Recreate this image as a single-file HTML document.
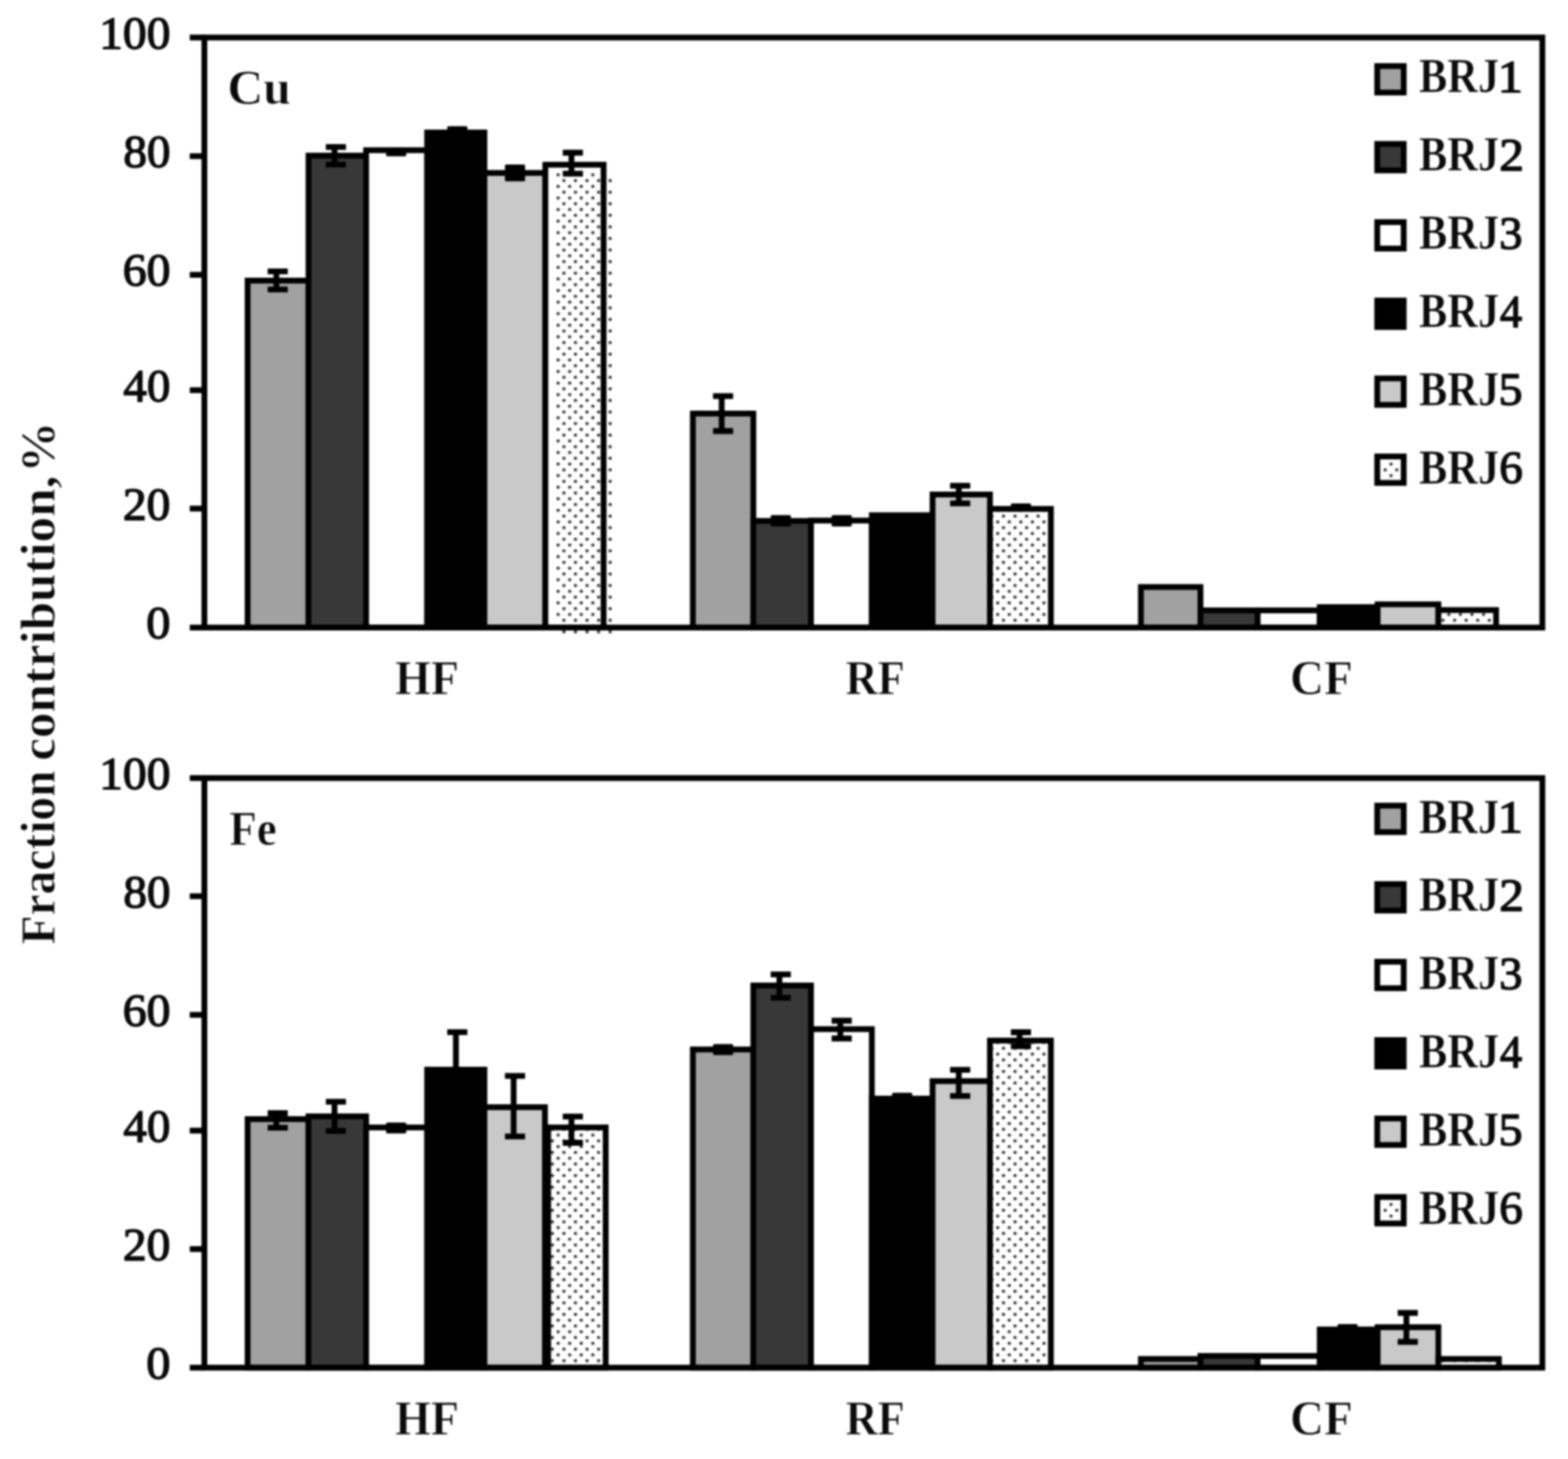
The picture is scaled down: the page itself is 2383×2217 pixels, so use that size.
<!DOCTYPE html>
<html lang="en"><head><meta charset="utf-8"><title>Fraction contribution of Cu and Fe</title>
<style>
html,body{margin:0;padding:0;background:#fff;}
body{width:2383px;height:2217px;overflow:hidden;}
svg{display:block;filter:blur(1.80px);}
text{font-family:"Liberation Serif","DejaVu Serif",serif;font-weight:bold;font-size:74px;fill:#0a0a0a;stroke:#fff;stroke-width:1.0px;stroke-linejoin:round;}
.s{stroke:#000;stroke-width:8.80;stroke-linejoin:miter;}
.l{stroke:#000;stroke-width:8.80;fill:none;stroke-linecap:butt;}
.b{fill:#000;}
.k{stroke-width:0.7px;}
.d{font-weight:normal;stroke:#0a0a0a;stroke-width:2.0px;stroke-linejoin:round;}
</style></head><body>
<svg width="2383" height="2217" viewBox="0 0 2383 2217">
<defs>
<pattern id="dots" patternUnits="userSpaceOnUse" x="2.12" y="-0.25" width="17.58" height="17.58">
<rect width="17.58" height="17.58" fill="#fff"/>
<rect x="0" y="0" width="4.5" height="4.5" rx="1.3" fill="#2e2e2e"/>
<rect x="8.79" y="8.79" width="4.5" height="4.5" rx="1.3" fill="#2e2e2e"/>
</pattern>
</defs>
<rect width="2383" height="2217" fill="#fff"/>
<g transform="translate(83.2 0) rotate(-90)">
<text><tspan x="-1435.3" y="0.0" style="font-size:74.8px" textLength="264.4" lengthAdjust="spacingAndGlyphs">Fraction</tspan> <tspan x="-1156.0" y="0.0" style="font-size:74.8px" textLength="433.2" lengthAdjust="spacingAndGlyphs">contribution,</tspan> <tspan x="-718.3" y="0.0" style="font-size:74.8px" textLength="77.6" lengthAdjust="spacingAndGlyphs">%</tspan></text>
</g>
<g>
<rect class="s" x="376.3" y="426.4" width="92.6" height="527.2" fill="#a1a1a1"/>
<rect class="s" x="468.9" y="236.5" width="87.5" height="717.1" fill="#383838"/>
<rect class="s" x="556.4" y="228.2" width="92.8" height="725.4" fill="#ffffff"/>
<rect class="s" x="649.2" y="201.3" width="87.0" height="752.3" fill="#000000"/>
<rect class="s" x="736.2" y="262.8" width="92.6" height="690.8" fill="#c9c9c9"/>
<rect x="828.8" y="250.3" width="88.5" height="703.3" fill="#fff"/>
<rect x="843.5" y="261.1" width="88.5" height="703.4" fill="url(#dots)"/>
<rect class="s" x="828.8" y="250.3" width="88.5" height="703.3" fill="none"/>
<rect class="s" x="1053.0" y="628.4" width="91.9" height="325.2" fill="#a1a1a1"/>
<rect class="s" x="1144.9" y="791.6" width="87.6" height="162.0" fill="#383838"/>
<rect class="s" x="1232.5" y="791.0" width="92.5" height="162.6" fill="#ffffff"/>
<rect class="s" x="1325.0" y="782.9" width="92.3" height="170.7" fill="#000000"/>
<rect class="s" x="1417.3" y="751.4" width="87.2" height="202.2" fill="#c9c9c9"/>
<rect class="s" x="1504.5" y="773.3" width="92.6" height="180.3" fill="url(#dots)"/>
<rect class="s" x="1733.9" y="892.0" width="90.5" height="61.6" fill="#a1a1a1"/>
<rect class="s" x="1824.4" y="927.5" width="86.9" height="26.1" fill="#383838"/>
<rect class="s" x="1911.3" y="927.5" width="94.4" height="26.1" fill="#ffffff"/>
<rect class="s" x="2005.7" y="922.5" width="88.0" height="31.1" fill="#000000"/>
<rect class="s" x="2093.7" y="918.3" width="92.3" height="35.3" fill="#c9c9c9"/>
<rect class="s" x="2186.0" y="927.0" width="87.7" height="26.6" fill="url(#dots)"/>
<path class="l" d="M420.0 412.4V439.8M406.8 412.4H437.4M406.8 439.8H437.4"/>
<path class="l" d="M508.4 223.3V250.2M495.2 223.3H525.8M495.2 250.2H525.8"/>
<rect class="b" x="586.8" y="228.0" width="30.6" height="9.4" rx="2"/>
<rect class="b" x="679.7" y="191.7" width="30.6" height="8.3" rx="2"/>
<rect class="b" x="767.4" y="249.9" width="30.6" height="25.7" rx="2"/>
<path class="l" d="M868.5 232.0V263.8M855.3 232.0H885.9M855.3 263.8H885.9"/>
<path class="l" d="M1096.8 601.9V655.0M1083.6 601.9H1114.2M1083.6 655.0H1114.2"/>
<rect class="b" x="1171.3" y="782.8" width="30.6" height="17.1" rx="2"/>
<rect class="b" x="1263.9" y="782.8" width="30.6" height="17.1" rx="2"/>
<path class="l" d="M1457.1 738.2V764.9M1443.9 738.2H1474.5M1443.9 764.9H1474.5"/>
<rect class="b" x="1536.3" y="765.1" width="30.6" height="9.0" rx="2"/>
<rect class="l" x="310.6" y="57.0" width="2033.4" height="896.6"/>
<path class="l" d="M288.4 57.0H310.6"/>
<path class="l" d="M288.4 237.3H310.6"/>
<path class="l" d="M288.4 417.6H310.6"/>
<path class="l" d="M288.4 592.9H310.6"/>
<path class="l" d="M288.4 772.8H310.6"/>
<path class="l" d="M288.4 953.6H310.6"/>
<text class="d" x="150.8" y="73.7" style="font-size:69.5px" textLength="108.2" lengthAdjust="spacingAndGlyphs">100</text>
<text class="d" x="187.4" y="254.0" style="font-size:69.5px" textLength="71.6" lengthAdjust="spacingAndGlyphs">80</text>
<text class="d" x="186.4" y="434.3" style="font-size:69.5px" textLength="72.6" lengthAdjust="spacingAndGlyphs">60</text>
<text class="d" x="187.6" y="609.6" style="font-size:69.5px" textLength="71.3" lengthAdjust="spacingAndGlyphs">40</text>
<text class="d" x="186.7" y="789.5" style="font-size:69.5px" textLength="72.3" lengthAdjust="spacingAndGlyphs">20</text>
<text class="d" x="222.2" y="970.3" style="font-size:69.5px" textLength="36.8" lengthAdjust="spacingAndGlyphs">0</text>
<text x="345.5" y="157.8" style="font-size:74.8px" textLength="96.7" lengthAdjust="spacingAndGlyphs">Cu</text>
<text x="600.3" y="1055.3" style="font-size:74.8px" textLength="97.2" lengthAdjust="spacingAndGlyphs">HF</text>
<text x="1284.9" y="1055.3" style="font-size:74.8px" textLength="90.2" lengthAdjust="spacingAndGlyphs">RF</text>
<text x="1960.6" y="1055.3" style="font-size:74.8px" textLength="95.3" lengthAdjust="spacingAndGlyphs">CF</text>
<rect class="s" x="2093.1" y="100.4" width="40.2" height="40.2" fill="#a1a1a1"/>
<text><tspan x="2156.6" y="140.3" style="font-size:73.8px" textLength="121.8" lengthAdjust="spacingAndGlyphs" class="k">BRJ</tspan><tspan class="d" x="2276.0" y="140.0" style="font-size:70px" textLength="38.6" lengthAdjust="spacingAndGlyphs">1</tspan></text>
<rect class="s" x="2093.1" y="218.7" width="40.2" height="40.2" fill="#383838"/>
<text><tspan x="2156.6" y="259.2" style="font-size:73.8px" textLength="121.8" lengthAdjust="spacingAndGlyphs" class="k">BRJ</tspan><tspan class="d" x="2278.4" y="258.9" style="font-size:70px" textLength="37.6" lengthAdjust="spacingAndGlyphs">2</tspan></text>
<rect class="s" x="2093.1" y="337.5" width="40.2" height="40.2" fill="#ffffff"/>
<text><tspan x="2156.6" y="378.0" style="font-size:73.8px" textLength="121.8" lengthAdjust="spacingAndGlyphs" class="k">BRJ</tspan><tspan class="d" x="2278.6" y="377.7" style="font-size:70px" textLength="35.3" lengthAdjust="spacingAndGlyphs">3</tspan></text>
<rect class="s" x="2093.1" y="456.7" width="40.2" height="40.2" fill="#000000"/>
<text><tspan x="2156.6" y="496.8" style="font-size:73.8px" textLength="121.8" lengthAdjust="spacingAndGlyphs" class="k">BRJ</tspan><tspan class="d" x="2279.6" y="496.5" style="font-size:70px" textLength="33.8" lengthAdjust="spacingAndGlyphs">4</tspan></text>
<rect class="s" x="2093.1" y="575.0" width="40.2" height="40.2" fill="#c9c9c9"/>
<text><tspan x="2156.6" y="615.6" style="font-size:73.8px" textLength="121.8" lengthAdjust="spacingAndGlyphs" class="k">BRJ</tspan><tspan class="d" x="2277.6" y="615.3" style="font-size:70px" textLength="36.4" lengthAdjust="spacingAndGlyphs">5</tspan></text>
<rect class="s" x="2093.1" y="693.6" width="40.2" height="40.2" fill="#fff"/>
<rect x="2100.7" y="701.2" width="25" height="25" fill="url(#dots)"/>
<text><tspan x="2156.6" y="734.5" style="font-size:73.8px" textLength="121.8" lengthAdjust="spacingAndGlyphs" class="k">BRJ</tspan><tspan class="d" x="2278.6" y="734.2" style="font-size:70px" textLength="35.8" lengthAdjust="spacingAndGlyphs">6</tspan></text>
</g>
<g>
<rect class="s" x="376.3" y="1700.5" width="92.6" height="377.7" fill="#a1a1a1"/>
<rect class="s" x="468.9" y="1696.3" width="87.5" height="381.9" fill="#383838"/>
<rect class="s" x="556.4" y="1713.2" width="92.8" height="365.0" fill="#ffffff"/>
<rect class="s" x="649.2" y="1625.4" width="87.0" height="452.8" fill="#000000"/>
<rect class="s" x="736.2" y="1682.4" width="92.0" height="395.8" fill="#c9c9c9"/>
<rect class="s" x="833.1" y="1713.2" width="87.4" height="365.0" fill="url(#dots)"/>
<rect class="s" x="1053.0" y="1594.7" width="91.9" height="483.5" fill="#a1a1a1"/>
<rect class="s" x="1144.9" y="1497.5" width="87.6" height="580.7" fill="#383838"/>
<rect class="s" x="1232.5" y="1563.8" width="92.5" height="514.4" fill="#ffffff"/>
<rect class="s" x="1325.0" y="1669.4" width="92.3" height="408.8" fill="#000000"/>
<rect class="s" x="1417.3" y="1642.8" width="87.2" height="435.4" fill="#c9c9c9"/>
<rect class="s" x="1504.5" y="1581.2" width="92.6" height="497.0" fill="url(#dots)"/>
<rect class="s" x="1733.9" y="2065.0" width="90.5" height="13.2" fill="#a1a1a1"/>
<rect class="s" x="1824.4" y="2060.4" width="86.9" height="17.8" fill="#383838"/>
<rect class="s" x="1911.3" y="2060.4" width="94.4" height="17.8" fill="#ffffff"/>
<rect class="s" x="2005.7" y="2020.2" width="88.0" height="58.0" fill="#000000"/>
<rect class="s" x="2093.7" y="2016.7" width="92.3" height="61.5" fill="#c9c9c9"/>
<rect class="s" x="2186.0" y="2065.0" width="92.0" height="13.2" fill="url(#dots)"/>
<path class="l" d="M420.0 1691.5V1713.7M406.8 1691.5H437.4M406.8 1713.7H437.4"/>
<path class="l" d="M508.4 1674.1V1718.5M495.2 1674.1H525.8M495.2 1718.5H525.8"/>
<rect class="b" x="586.8" y="1705.8" width="30.6" height="16.4" rx="2"/>
<path class="l" d="M692.9 1568.3V1640.0M679.7 1568.3H710.3M679.7 1640.0H710.3"/>
<path class="l" d="M780.6 1634.8V1726.9M767.4 1634.8H798.0M767.4 1726.9H798.0"/>
<path class="l" d="M868.5 1696.6V1736.5M855.3 1696.6H885.9M855.3 1736.5H885.9"/>
<rect class="b" x="1083.6" y="1586.5" width="30.6" height="16.7" rx="2"/>
<path class="l" d="M1184.5 1480.7V1516.1M1171.3 1480.7H1201.9M1171.3 1516.1H1201.9"/>
<path class="l" d="M1277.1 1551.0V1578.0M1263.9 1551.0H1294.5M1263.9 1578.0H1294.5"/>
<rect class="b" x="1355.8" y="1660.5" width="30.6" height="7.5" rx="2"/>
<path class="l" d="M1457.1 1625.6V1665.4M1443.9 1625.6H1474.5M1443.9 1665.4H1474.5"/>
<path class="l" d="M1549.5 1568.5V1589.8M1536.3 1568.5H1566.9M1536.3 1589.8H1566.9"/>
<rect class="b" x="2032.7" y="2012.0" width="30.6" height="7.0" rx="2"/>
<path class="l" d="M2137.4 1995.0V2039.0M2124.2 1995.0H2154.8M2124.2 2039.0H2154.8"/>
<rect class="l" x="310.6" y="1182.3" width="2033.4" height="895.9"/>
<path class="l" d="M288.4 1182.3H310.6"/>
<path class="l" d="M288.4 1361.8H310.6"/>
<path class="l" d="M288.4 1542.1H310.6"/>
<path class="l" d="M288.4 1718.0H310.6"/>
<path class="l" d="M288.4 1898.0H310.6"/>
<path class="l" d="M288.4 2078.2H310.6"/>
<text class="d" x="150.8" y="1199.0" style="font-size:69.5px" textLength="108.2" lengthAdjust="spacingAndGlyphs">100</text>
<text class="d" x="187.4" y="1378.5" style="font-size:69.5px" textLength="71.6" lengthAdjust="spacingAndGlyphs">80</text>
<text class="d" x="186.4" y="1558.8" style="font-size:69.5px" textLength="72.6" lengthAdjust="spacingAndGlyphs">60</text>
<text class="d" x="187.6" y="1734.7" style="font-size:69.5px" textLength="71.3" lengthAdjust="spacingAndGlyphs">40</text>
<text class="d" x="186.7" y="1914.7" style="font-size:69.5px" textLength="72.3" lengthAdjust="spacingAndGlyphs">20</text>
<text class="d" x="222.2" y="2094.9" style="font-size:69.5px" textLength="36.8" lengthAdjust="spacingAndGlyphs">0</text>
<text x="348.4" y="1283.9" style="font-size:74.8px" textLength="72.1" lengthAdjust="spacingAndGlyphs">Fe</text>
<text x="600.3" y="2179.9" style="font-size:74.8px" textLength="97.2" lengthAdjust="spacingAndGlyphs">HF</text>
<text x="1284.9" y="2179.9" style="font-size:74.8px" textLength="90.2" lengthAdjust="spacingAndGlyphs">RF</text>
<text x="1960.6" y="2179.9" style="font-size:74.8px" textLength="95.3" lengthAdjust="spacingAndGlyphs">CF</text>
<rect class="s" x="2093.1" y="1224.2" width="40.2" height="40.2" fill="#a1a1a1"/>
<text><tspan x="2156.6" y="1265.5" style="font-size:73.8px" textLength="121.8" lengthAdjust="spacingAndGlyphs" class="k">BRJ</tspan><tspan class="d" x="2276.0" y="1265.2" style="font-size:70px" textLength="38.6" lengthAdjust="spacingAndGlyphs">1</tspan></text>
<rect class="s" x="2093.1" y="1343.4" width="40.2" height="40.2" fill="#383838"/>
<text><tspan x="2156.6" y="1384.3" style="font-size:73.8px" textLength="121.8" lengthAdjust="spacingAndGlyphs" class="k">BRJ</tspan><tspan class="d" x="2278.4" y="1384.0" style="font-size:70px" textLength="37.6" lengthAdjust="spacingAndGlyphs">2</tspan></text>
<rect class="s" x="2093.1" y="1461.4" width="40.2" height="40.2" fill="#ffffff"/>
<text><tspan x="2156.6" y="1503.1" style="font-size:73.8px" textLength="121.8" lengthAdjust="spacingAndGlyphs" class="k">BRJ</tspan><tspan class="d" x="2278.6" y="1502.8" style="font-size:70px" textLength="35.3" lengthAdjust="spacingAndGlyphs">3</tspan></text>
<rect class="s" x="2093.1" y="1580.4" width="40.2" height="40.2" fill="#000000"/>
<text><tspan x="2156.6" y="1621.9" style="font-size:73.8px" textLength="121.8" lengthAdjust="spacingAndGlyphs" class="k">BRJ</tspan><tspan class="d" x="2279.6" y="1621.6" style="font-size:70px" textLength="33.8" lengthAdjust="spacingAndGlyphs">4</tspan></text>
<rect class="s" x="2093.1" y="1699.6" width="40.2" height="40.2" fill="#c9c9c9"/>
<text><tspan x="2156.6" y="1740.7" style="font-size:73.8px" textLength="121.8" lengthAdjust="spacingAndGlyphs" class="k">BRJ</tspan><tspan class="d" x="2277.6" y="1740.4" style="font-size:70px" textLength="36.4" lengthAdjust="spacingAndGlyphs">5</tspan></text>
<rect class="s" x="2093.1" y="1818.9" width="40.2" height="40.2" fill="#fff"/>
<rect x="2100.7" y="1826.5" width="25" height="25" fill="url(#dots)"/>
<text><tspan x="2156.6" y="1859.5" style="font-size:73.8px" textLength="121.8" lengthAdjust="spacingAndGlyphs" class="k">BRJ</tspan><tspan class="d" x="2278.6" y="1859.2" style="font-size:70px" textLength="35.8" lengthAdjust="spacingAndGlyphs">6</tspan></text>
</g>
</svg>
</body></html>
